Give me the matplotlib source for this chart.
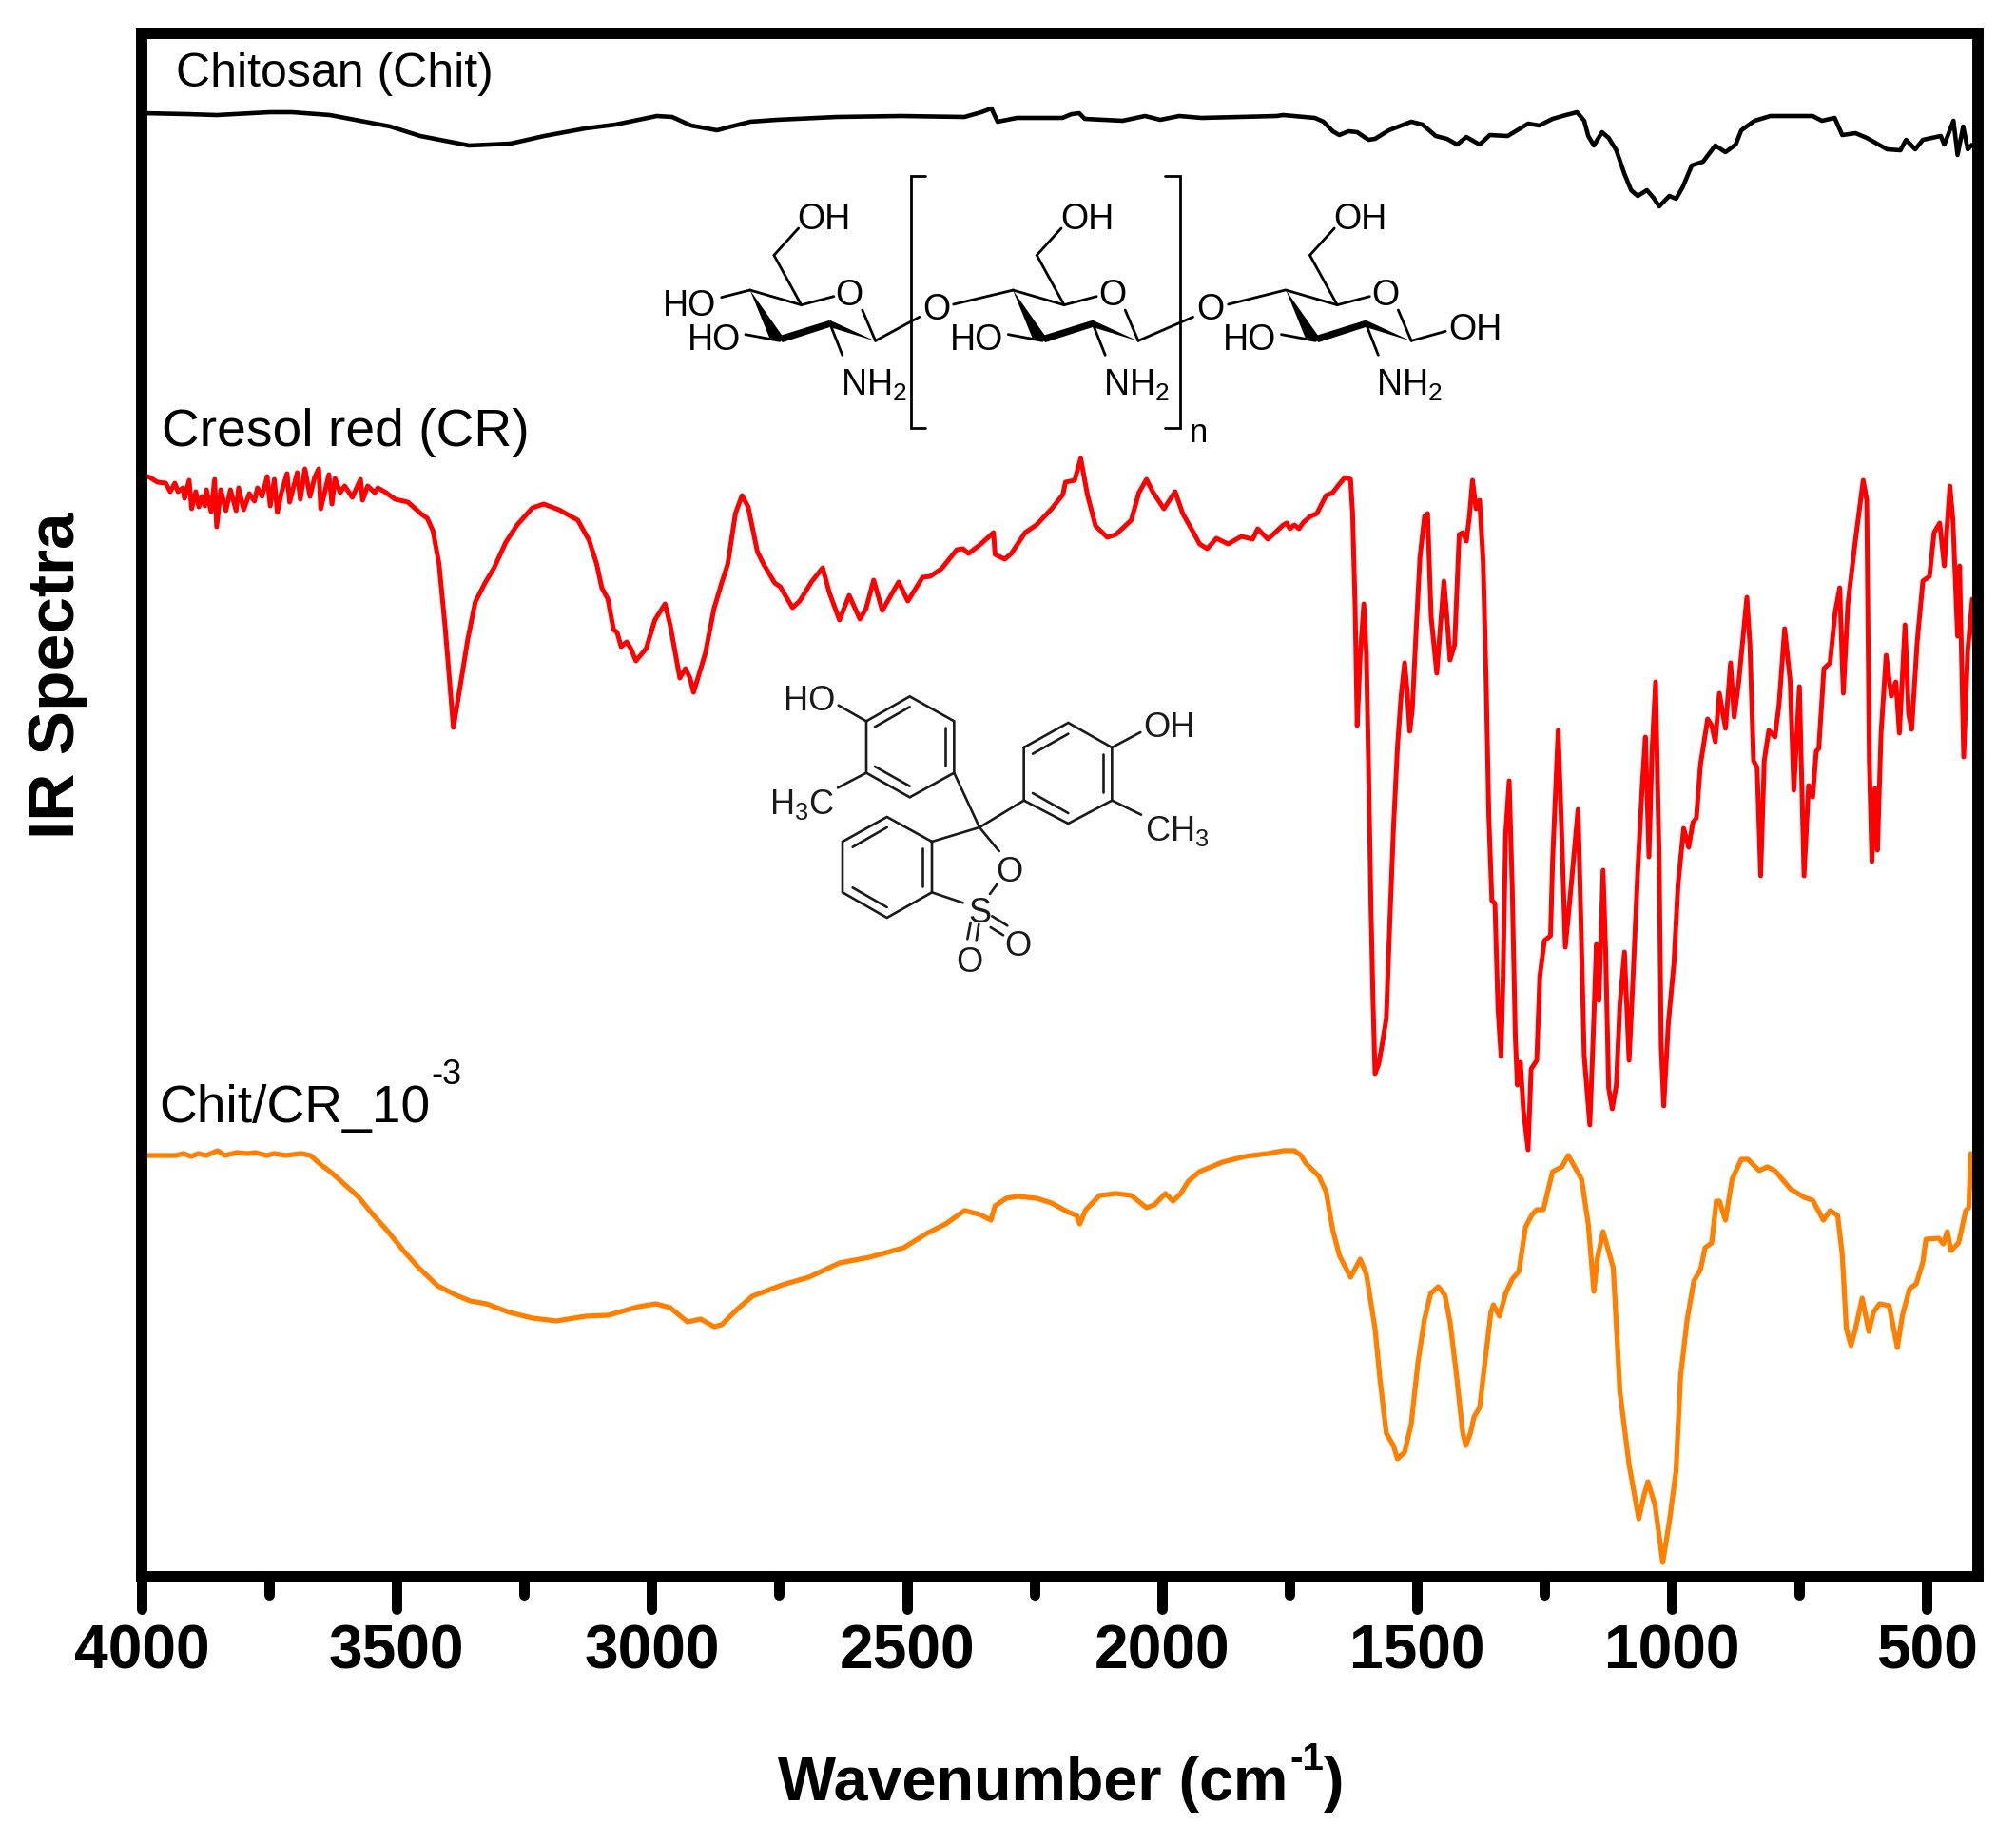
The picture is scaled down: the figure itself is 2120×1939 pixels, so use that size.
import matplotlib
matplotlib.use("Agg")
import matplotlib.pyplot as plt
from matplotlib.markers import MarkerStyle
from matplotlib.patches import Polygon

plt.rcParams['font.family'] = ['Liberation Sans', 'DejaVu Sans']
plt.rcParams['mathtext.fontset'] = 'custom'
plt.rcParams['mathtext.rm'] = 'Liberation Sans'
plt.rcParams['mathtext.bf'] = 'Liberation Sans:bold'
plt.rcParams['mathtext.default'] = 'regular'

# spectra (y is an arbitrary offset intensity)
chit_wn = [4000,3911,3853,3749,3705,3631,3572,3513,3454,3358,3277,3211,3130,3071,2990,2960,2923,2872,2844,2807,2755,2637,2512,2387,2354,2334,2322,2284,2195,2177,2162,2151,2077,2033,2003,1966,1922,1775,
           1762,1700,1683,1665,1652,1634,1617,1595,1582,1555,1511,1489,1463,1441,1421,1403,1377,1357,1322,1282,1260,1234,1208,1186,1172,1164,1153,1137,1124,1109,1093,1080,1067,1049,1036,1025,1005,992,979,961,939,915,895,875,864,838,807,724,706,681,666,640,618,578,552,541,523,508,473,466,448,440,429,420,413]
chit_y = [1539,1538,1537,1540,1540,1537,1531,1525,1515,1505,1507,1515,1523,1527,1536,1535,1526,1521,1525,1530,1532,1535,1536,1535,1540,1544,1530,1534,1534,1538,1539,1533,1531,1536,1532,1536,1534,1536,
          1537,1534,1530,1520,1516,1520,1519,1511,1512,1521,1530,1527,1515,1512,1506,1514,1506,1516,1515,1528,1526,1533,1537,1540,1531,1515,1505,1519,1513,1500,1475,1458,1452,1458,1450,1441,1452,1449,1461,1484,1488,1505,1498,1506,1521,1531,1536,1536,1531,1534,1516,1518,1513,1501,1500,1511,1501,1511,1515,1506,1531,1495,1525,1501,1505]

cr_wn = [4000,3984,3969,3953,3944,3935,3929,3919,3916,3907,3902,3894,3888,3882,3876,3873,3864,3857,3853,3845,3835,3826,3815,3810,3800,3789,3779,3773,3764,3754,3748,3740,3734,3726,3715,3710,3695,3689,3680,3670,3661,3653,3649,3633,3627,3621,3611,3602,3587,3571,3567,3557,3543,3537,3521,3503,3478,3453,3440,3429,
         3417,3405,3389,3376,3361,3346,3327,3309,3286,3264,3234,3212,3182,3145,3123,3108,3098,3086,3075,3068,3060,3049,3041,3031,3011,2994,2974,2964,2945,2934,2925,2918,2895,2878,2863,2851,2836,2823,2811,2793,2781,2759,2748,2724,2710,2687,2665,2652,2632,2613,2592,2580,2565,2548,2528,2516,2498,2484,2469,2454,2432,2402,2390,2379,2357,2330,2327,2308,2295,2268,2246,2216,2194,2189,2171,2159,2146,2130,2107,2090,2060,2045,2030,2018,1996,1974,1959,1938,1926,1911,1893,1870,1844,1822,1812,1792,
         1762,1755,1749,1740,1731,1722,1709,1696,1678,1665,1652,1641,1630,1626,1621,1617,1611,1604,1599,1595,1590,1586,1582,1575,1568,1560,1553,1546,1538,1531,1524,1519,1514,1509,1502,1494,1485,1479,1472,1461,1454,1447,1441,1435,1426,1417,1410,1403,1397,1391,1384,1377,1370,1364,1359,1353,1347,1341,1335,1331,1326,1319,1313,1307,1303,1297,1291,1282,1276,1265,1259,1250,1238,1234,1223,1216,1209,1199,1190,1184,1179,1172,1161,1155,1148,1143,1135,1130,1124,1117,1109,1102,1093,1084,1077,1067,1058,1052,1045,1039,1032,1025,1021,1016,1007,996,988,977,967,959,952,944,930,922,915,907,895,885,878,869,853,847,840,833,826,819,810,798,790,779,768,761,750,741,732,724,717,712,702,690,680,671,664,655,640,625,618,613,608,602,597,590,580,570,561,554,543,536,530,519,508,495,486,475,466,455,449,440,436,428,420,411,401]
cr_y = [1159,1156,1151,1150,1141,1150,1141,1145,1134,1153,1123,1141,1125,1136,1126,1143,1120,1154,1104,1143,1121,1143,1121,1145,1122,1139,1131,1145,1136,1157,1126,1154,1119,1140,1160,1130,1161,1133,1165,1136,1156,1165,1123,1159,1128,1155,1140,1147,1135,1154,1132,1147,1140,1145,1140,1133,1130,1118,1113,1100,
        1065,998,893,935,985,1025,1045,1061,1088,1106,1124,1128,1122,1111,1090,1065,1040,1028,996,993,978,983,976,963,976,1006,1023,1001,945,955,945,930,971,1018,1045,1065,1118,1137,1125,1078,1065,1045,1041,1019,1026,1046,1061,1035,1006,1032,1007,1018,1048,1016,1035,1046,1026,1038,1051,1052,1060,1080,1081,1076,1085,1098,1075,1070,1076,1098,1106,1123,1138,1151,1153,1176,1138,1105,1093,1096,1111,1140,1154,1141,1123,1141,1118,1098,1086,1081,1092,1086,1094,1091,1102,1091,
        1106,1108,1102,1106,1102,1109,1115,1118,1137,1140,1149,1156,1154,1118,1018,895,970,1023,970,858,703,606,529,539,560,587,689,786,873,926,961,931,889,912,989,1072,1115,1118,1009,950,999,1047,1009,964,980,1096,1098,1089,1115,1153,1123,1132,1067,936,800,711,708,597,547,631,781,837,723,568,517,541,490,449,534,543,631,669,674,752,890,781,662,718,771,807,703,548,475,558,665,606,743,660,514,492,517,602,657,543,621,742,834,883,757,868,941,752,558,495,582,645,728,787,767,793,798,854,902,895,878,929,892,961,904,941,1030,980,858,851,737,858,890,883,917,997,941,827,936,737,832,820,868,871,955,961,1014,1040,929,1023,1091,1153,1132,858,752,829,764,887,969,926,941,887,1001,907,891,984,1047,1052,1098,1108,1063,1147,1110,989,1063,862,975,1028,914]

mix_wn = [4000,3933,3918,3903,3889,3874,3851,3837,3814,3792,3777,3755,3740,3718,3688,3669,3648,3628,3599,3576,3547,3517,3487,3457,3420,3383,3356,3324,3279,3234,3187,3130,3086,3026,2992,2964,2930,2904,2878,2863,2833,2803,2744,2692,2632,2573,2506,2461,2424,2387,2357,2335,2327,2305,2283,2246,2216,2186,2167,2161,2149,2122,2090,2060,2030,2015,1993,1978,1963,1948,1926,1881,1837,1792,
          1762,1740,1727,1718,1692,1678,1665,1652,1630,1611,1599,1582,1573,1560,1546,1538,1524,1511,1498,1485,1473,1458,1445,1435,1423,1410,1404,1395,1388,1377,1366,1355,1350,1338,1326,1313,1300,1287,1274,1265,1252,1234,1216,1203,1177,1164,1153,1146,1135,1115,1102,1084,1065,1055,1047,1033,1018,1005,992,983,970,957,944,935,922,913,907,895,882,864,851,829,813,798,768,741,724,703,690,675,666,658,649,640,627,614,605,593,574,558,548,534,521,508,502,477,468,460,453,438,424,418,414,407,400]
mix_y = [443,443,445,442,445,443,448,443,446,445,446,443,445,443,445,443,433,425,411,400,381,363,343,325,306,296,290,287,278,272,269,274,275,284,287,283,268,271,263,265,281,295,307,315,330,336,346,361,371,385,381,375,390,398,400,398,393,384,380,371,386,401,403,401,388,391,403,395,403,416,426,436,442,445,
         448,448,443,435,421,405,365,338,315,334,318,261,211,151,138,124,131,161,225,271,298,305,296,268,215,151,138,151,168,178,228,278,286,274,298,313,321,368,381,386,386,426,431,443,418,371,300,335,363,325,195,118,61,85,100,75,15,58,111,211,271,311,323,346,351,395,395,375,418,439,439,427,431,427,408,399,396,375,385,380,338,261,243,261,293,258,278,287,285,241,275,303,308,331,355,356,350,363,343,351,385,388,445,408,450]

major_ticks = [4000, 3500, 3000, 2500, 2000, 1500, 1000, 500]
minor_ticks = [3750, 3250, 2750, 2250, 1750, 1250, 750]
W, H = 2120, 1939

fig = plt.figure(figsize=(W/100, H/100), dpi=100)
ax = fig.add_axes([149/W, 1-1658/H, (2080-149)/W, (1658-35)/H])
ax.plot(chit_wn, chit_y, color='black', lw=3.3)
ax.plot(cr_wn, cr_y, color='#ff0000', lw=3.6)
ax.plot(mix_wn, mix_y, color='#ff8000', lw=3.8)
ax.set_xlim(4000, 400)
ax.set_ylim(0, 1623)
ax.set_yticks([])
ax.set_xticks(major_ticks)
ax.set_xticks(minor_ticks, minor=True)
ax.tick_params(axis='x', which='major', length=24.5, width=7.9, pad=11, labelsize=46.2)
ax.tick_params(axis='x', which='minor', length=13.7, width=7.9)
for lab in ax.get_xticklabels():
    lab.set_fontweight('bold')
for t in ax.xaxis.get_major_ticks() + ax.xaxis.get_minor_ticks():
    t.tick1line.set_marker(MarkerStyle(3, capstyle='round'))
for s in ax.spines.values():
    s.set_linewidth(8.6)

# overlay in image pixels for labels and the drawn molecules
ov = fig.add_axes([0, 0, 1, 1])
ov.set_xlim(0, W)
ov.set_ylim(H, 0)
ov.axis('off')
ov.patch.set_alpha(0)

ov.text(818, 1893, 'Wavenumber (cm', fontsize=46.5, fontweight='bold', ha='left', va='baseline')
ov.text(1356, 1850, '-1', fontsize=29, fontweight='bold', ha='left', va='center')
ov.text(1392, 1893, ')', fontsize=46.5, fontweight='bold', ha='left', va='baseline')
ov.text(60, 710, 'IR Spectra', fontsize=50, fontweight='bold', rotation=90, ha='center', va='center')
ov.text(185, 78, 'Chitosan (Chit)', fontsize=36, ha='left', va='center')
ov.text(170, 455, 'Cresol red (CR)', fontsize=39.7, ha='left', va='center')
ov.text(167, 1180, 'Chit/CR_10', fontsize=39.7, ha='left', va='baseline')
ov.text(453, 1130, '-3', fontsize=26, ha='left', va='center')

# chitosan drawing, coordinates as read on the zoomed crop
def cx(x): return 670 + x/1.668
def cy(y): return 170 + y/3

def cline(pts, lw=2.0):
    ov.plot([cx(p[0]) for p in pts], [cy(p[1]) for p in pts], color='black', lw=lw, solid_capstyle='round', solid_joinstyle='miter')

def ctext(x, y, s, fs=27):
    ov.text(cx(x), cy(y)+4, s, fontsize=fs, ha='center', va='center')

unit_offsets = [0, 461, 940]
bridge_o = [525, 1005]
for i, d in enumerate(unit_offsets):
    cline([(283+d, 210), (240+d, 295), (288+d, 452), (345+d, 425)])
    cline([(198+d, 405), (288+d, 452)])
    cline([(395+d, 468), (418+d, 565)])
    cline([(338+d, 510), (360+d, 610)])
    cline([(190+d, 545), (250+d, 565)])
    for poly in ([(198+d, 405), (232+d, 555), (262+d, 568)],
                 [(245+d, 552), (338+d, 500), (338+d, 522), (255+d, 570)],
                 [(418+d, 566), (338+d, 500), (338+d, 522)]):
        ov.add_patch(Polygon([(cx(a), cy(b)) for a, b in poly], closed=True, color='black', lw=0))
    ctext(328+d, 170, 'OH')
    ctext(372+d, 410, 'O')
    ctext(135+d, 553, 'HO')
    ctext(415+d, 695, r'NH$_2$')
    if i < 2:
        cline([(418+d, 565), (bridge_o[i]-30, 490)])
        ctext(bridge_o[i], 455, 'O')
cline([(148, 428), (198, 405)])
ctext(92, 445, 'HO')
cline([(555, 450), (660, 405)])
cline([(1037, 450), (1137, 405)])
cline([(1358, 565), (1418, 535)])
ctext(1470, 520, 'OH')
cline([(505, 45), (480, 45), (480, 840), (505, 840)])
cline([(925, 45), (952, 45), (952, 840), (925, 840)])
ctext(985, 845, 'n', fs=25)

# cresol red drawing
def rx(x): return 780 + x/3
def ry(y): return 700 + y/3

def rline(pts, lw=1.9):
    ov.plot([rx(p[0]) for p in pts], [ry(p[1]) for p in pts], color='#1a1a1a', lw=lw, solid_capstyle='round', solid_joinstyle='miter')

def rtext(x, y, s, fs=26):
    ov.text(rx(x), ry(y)+4, s, fontsize=fs, ha='center', va='center', color='#1a1a1a')

ring_a = [(393,175),(530,97),(670,175),(670,338),(530,415),(393,338),(393,175)]
ring_b = [(890,258),(1030,180),(1168,258),(1168,425),(1030,498),(890,425),(890,258)]
ring_c = [(600,555),(458,477),(318,555),(318,715),(458,795),(600,715),(600,555)]
bonds = [[(420,193),(530,130)], [(642,195),(642,315)], [(420,318),(530,380)],
         [(305,125),(393,175)], [(303,385),(393,338)], [(670,338),(750,510)],
         [(918,278),(1030,215)], [(1140,278),(1140,400)], [(918,402),(1030,465)],
         [(1168,258),(1258,210)], [(1168,425),(1260,470)], [(890,425),(750,510)],
         [(458,510),(350,572)], [(570,575),(570,695)], [(350,700),(458,762)],
         [(600,555),(750,510)], [(750,510),(812,585)], [(805,690),(783,720)],
         [(600,715),(698,748)], [(722,810),(712,862)], [(748,815),(740,868)],
         [(790,790),(838,820)], [(785,825),(825,850)]]
for r in (ring_a, ring_b, ring_c):
    rline(r)
for b in bonds:
    rline(b)
rtext(215, 100, 'HO')
rtext(190, 425, r'H$_3$C')
rtext(1348, 185, 'OH')
rtext(1372, 510, r'CH$_3$')
rtext(845, 640, 'O')
rtext(750, 770, 'S')
rtext(718, 925, 'O')
rtext(870, 875, 'O')

fig.savefig('out.png', dpi=100)
